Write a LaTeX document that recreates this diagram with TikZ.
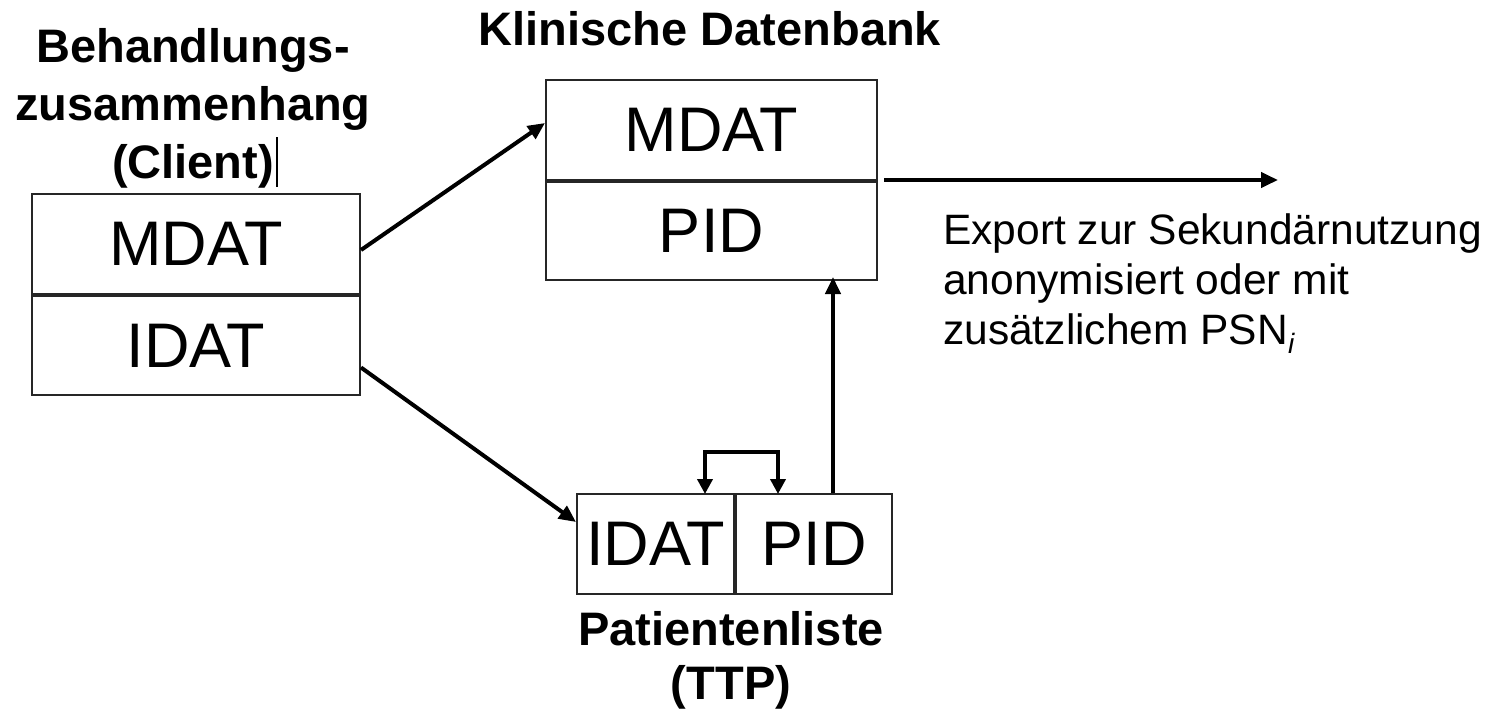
\documentclass[tikz,border=0pt]{standalone}
\usepackage{fontspec}
\setmainfont{Liberation Sans}
\usetikzlibrary{arrows.meta}

\tikzset{
  cell/.style={draw=black!85, line width=2pt, inner sep=0pt,
    font=\fontsize{63}{70}\selectfont},
  title/.style={inner sep=0pt, align=center,
    font=\fontsize{47}{58}\selectfont\bfseries},
  flow/.style={line width=4pt, -{Triangle[length=17pt,width=15pt]}},
  swap/.style={line width=4.5pt, {Triangle[length=15pt,width=15pt]}-{Triangle[length=15pt,width=15pt]}},
  note/.style={inner sep=0pt, align=left,
    font=\fontsize{42.5}{50}\selectfont}
}

\begin{document}
\begin{tikzpicture}[x=1pt, y=-1pt]
  \useasboundingbox (0,0) rectangle (1496,712);

  % client-side record
  \node[title, anchor=north] (ctitle) at (193,28)
    {Behandlungs-\\zusammenhang\\(Client)};
  \draw[line width=1.5pt] (277,137) -- (277,187);
  \node[cell, minimum width=328pt, minimum height=100pt] (cm) at (196,244) {MDAT};
  \node[cell, minimum width=328pt, minimum height=99pt, anchor=north] (ci) at (cm.south) {IDAT};

  % clinical database
  \node[title, anchor=base] (ktitle) at (710,45) {Klinische Datenbank};
  \node[cell, minimum width=331pt, minimum height=100pt] (km) at (711.5,130) {MDAT};
  \node[cell, minimum width=331pt, minimum height=98pt, anchor=north] (kp) at (km.south) {PID};

  % patient list (trusted third party)
  \node[cell, minimum width=157pt, minimum height=100pt] (pi) at (655.5,544) {IDAT};
  \node[cell, minimum width=156pt, minimum height=100pt, anchor=west] (pp) at (pi.east) {PID};
  \node[title, anchor=north, font=\fontsize{47}{54}\selectfont\bfseries] (ptitle) at (731,611) {Patientenliste\\(TTP)};

  % export note
  \node[note, anchor=north west] (exp) at (943,213)
    {Export zur Sekundärnutzung\\anonymisiert oder mit\\zusätzlichem PSN\raisebox{-0.22em}{\fontsize{28}{28}\selectfont\itshape i}};

  % data flows
  \draw[flow] ([yshift=-6pt]cm.east) -- ([yshift=7pt]km.west);
  \draw[flow] ([yshift=-22pt]ci.east) -- ([yshift=22pt]pi.west);
  \draw[flow] (pp.north -| 833,0) -- ([yshift=4pt]kp.south -| 833,0);
  \coordinate (xs) at (884,180);
  \coordinate (xe) at (1278,180);
  \draw[flow] (xs) -- (xe);

  % exchange between IDAT and PID
  \coordinate (sl) at (705,494);
  \coordinate (sr) at (778,494);
  \draw[swap] (sl) -- ++(0,-42) -| (sr);
\end{tikzpicture}
\end{document}
